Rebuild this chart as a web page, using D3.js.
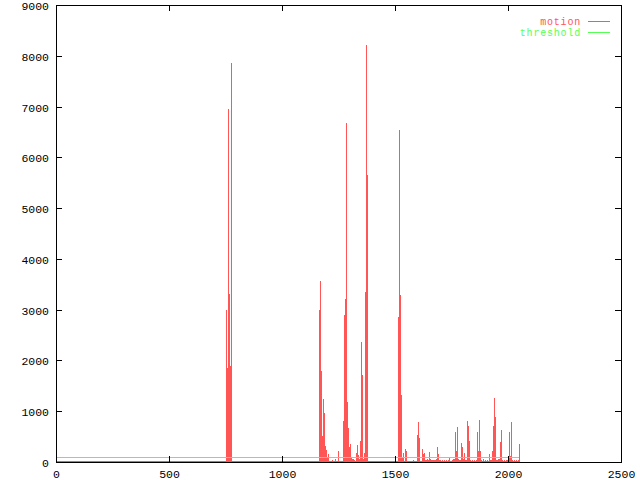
<!DOCTYPE html>
<html>
<head>
<meta charset="utf-8">
<script src="https://cdn.jsdelivr.net/npm/d3@7"></script>
<style>
  body { margin: 0; background: #fff; }
  text { font-family: "Liberation Mono", "DejaVu Sans Mono", monospace; font-size: 11.5px; }
  text.legend { font-size: 10px; letter-spacing: 0.8px; }
</style>
</head>
<body>
<div id="chart"></div>
<script>
// frame numbers and motion values
const frames = [
  752, 757, 761, 766, 770, 774,
  1164, 1168, 1173, 1177, 1181, 1186, 1190, 1195, 1199, 1204, 1221,
  1235, 1243, 1248, 1252, 1257, 1261, 1266, 1270, 1274, 1279, 1283, 1288, 1292, 1297,
  1301, 1305, 1310, 1314, 1319, 1323, 1328, 1332, 1336, 1341, 1345, 1350, 1354, 1358,
  1363, 1367, 1372, 1376,
  1513, 1518, 1522, 1527, 1531, 1535, 1544, 1549, 1553, 1558, 1566, 1580, 1589,
  1597, 1602, 1606, 1611, 1620, 1624, 1628, 1633, 1637, 1642, 1646, 1651, 1655,
  1659, 1664, 1668, 1673, 1677, 1682, 1686, 1690, 1695, 1699, 1708, 1717, 1726,
  1735, 1739, 1752, 1757, 1761, 1766, 1770, 1774, 1779, 1783, 1788, 1792, 1797,
  1801, 1805, 1810, 1814, 1819, 1823, 1828, 1832, 1841, 1850, 1859, 1863, 1867,
  1872, 1876, 1881, 1890, 1898, 1907, 1916, 1920, 1925, 1929, 1934, 1938, 1943,
  1947, 1951, 1956, 1960, 1965, 1969, 1974, 1982, 1991, 1996, 2005, 2009, 2013,
  2018, 2027, 2036, 2044, 2049
];
const motion = [
  3000, 1850, 6960, 3300, 1900, 7860,
  2990, 3560, 1800, 510, 1240, 960, 310, 240, 80, 160, 40,
  60, 20, 215, 20, 20, 20, 20, 810, 2900, 3210, 6670, 1180, 670, 295,
  355, 100, 60, 60, 40, 20, 175, 335, 140, 60, 415, 2360, 1710, 60,
  175, 3350, 8210, 5650,
  2860, 6540, 3290, 1320, 100, 175, 255, 215, 20, 20, 20, 40, 20,
  530, 790, 475, 20, 255, 160, 180, 40, 30, 50, 30, 195, 60,
  30, 30, 30, 40, 30, 60, 295, 160, 40, 30, 30, 30, 30,
  30, 80, 40, 50, 60, 590, 215, 690, 50, 40, 30, 370, 295,
  60, 180, 30, 40, 810, 710, 415, 30, 30, 30, 30, 590, 215,
  830, 215, 30, 50, 40, 30, 160, 30, 40, 215, 710, 1260, 890,
  40, 40, 50, 50, 395, 630, 40, 30, 30, 40, 590, 120, 790,
  30, 30, 30, 30, 350
];
const threshold = 100;
const firstFrame = 0;
const lastFrame = 2049;
const xTicks = [0, 500, 1000, 1500, 2000, 2500];
const yTicks = [0, 1000, 2000, 3000, 4000, 5000, 6000, 7000, 8000, 9000];
const seriesNames = ["motion", "threshold"];
const seriesColors = ["#ff5555", "#55ff55"];

const W = 640, H = 480;
const plotL = 56, plotR = 621, plotT = 5, plotB = 462;

const svg = d3.select("#chart").append("svg")
  .attr("width", W).attr("height", H)
  .style("display", "block");

const x = d3.scaleLinear().domain([0, 2500]).range([plotL, plotR]);
const y = d3.scaleLinear().domain([0, 9000]).range([plotB, plotT]);

const px = v => Math.round(x(v)) + 0.5;

// motion impulses
const g = svg.append("g").attr("shape-rendering", "crispEdges");
g.append("line")
  .attr("x1", x(firstFrame)).attr("x2", x(lastFrame))
  .attr("y1", y(0) - 0.5).attr("y2", y(0) - 0.5)
  .attr("stroke", seriesColors[0]);
g.selectAll("line.imp")
  .data(frames.map((f, i) => ({ f, v: motion[i] })))
  .enter().append("line")
  .attr("class", "imp")
  .attr("x1", d => px(d.f)).attr("x2", d => px(d.f))
  .attr("y1", y(0)).attr("y2", d => y(d.v))
  .attr("stroke", seriesColors[0])
  .attr("stroke-width", 1);

// threshold
g.append("line")
  .attr("x1", x(firstFrame)).attr("x2", x(lastFrame))
  .attr("y1", Math.round(y(threshold)) + 0.5).attr("y2", Math.round(y(threshold)) + 0.5)
  .attr("stroke", seriesColors[1]);

// frame and ticks
const axes = svg.append("g").attr("shape-rendering", "crispEdges");
axes.append("rect")
  .attr("x", plotL + 0.5).attr("y", plotT + 0.5)
  .attr("width", plotR - plotL).attr("height", plotB - plotT)
  .attr("fill", "none").attr("stroke", "#000");

yTicks.forEach(t => {
  const yy = Math.round(y(t)) + 0.5;
  axes.append("line").attr("x1", plotL).attr("x2", plotL + 6).attr("y1", yy).attr("y2", yy).attr("stroke", "#000");
  axes.append("line").attr("x1", plotR - 6).attr("x2", plotR).attr("y1", yy).attr("y2", yy).attr("stroke", "#000");
  svg.append("text").attr("x", 49).attr("y", yy + 4)
    .attr("text-anchor", "end").text(t);
});
xTicks.forEach(t => {
  const xx = Math.round(x(t)) + 0.5;
  axes.append("line").attr("x1", xx).attr("x2", xx).attr("y1", plotB).attr("y2", plotB - 6).attr("stroke", "#000");
  axes.append("line").attr("x1", xx).attr("x2", xx).attr("y1", plotT).attr("y2", plotT + 6).attr("stroke", "#000");
  svg.append("text").attr("x", xx).attr("y", 478)
    .attr("text-anchor", "middle").text(t);
});

// legend
seriesNames.forEach((name, i) => {
  const ly = 21 + i * 11;
  svg.append("text").attr("class", "legend").attr("x", 581).attr("y", ly + 3.5)
    .attr("text-anchor", "end").attr("fill", seriesColors[i]).text(name);
  svg.append("line").attr("x1", 588).attr("x2", 610)
    .attr("y1", ly + 0.5).attr("y2", ly + 0.5)
    .attr("stroke", seriesColors[i]).attr("shape-rendering", "crispEdges");
});
</script>
</body>
</html>
